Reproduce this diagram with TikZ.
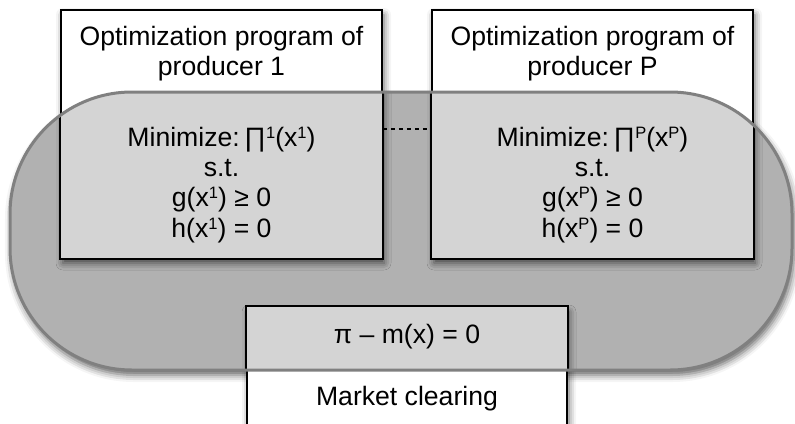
\documentclass[tikz,border=0pt]{standalone}
\usepackage{fontspec}
\setmainfont{Liberation Sans}
\usetikzlibrary{shadows.blur,calc}
\definecolor{ringfill}{HTML}{B1B1B1}
\definecolor{ringline}{HTML}{808080}
\definecolor{insidefill}{HTML}{D4D4D4}
\newcommand\hi[1]{\raisebox{7.6pt}{\fontsize{16.5}{16.5}\selectfont #1}}
\tikzset{
  prog/.style={draw=black, line width=1.8pt, fill=white, rectangle, inner sep=0pt},
  softshadow/.style={blur shadow={shadow xshift=2pt, shadow yshift=-5pt,
      shadow blur radius=7pt, shadow opacity=62}},
  txt/.style={anchor=base, inner sep=0pt, font=\fontsize{26.6}{30}\selectfont},
  ringedge/.style={draw=ringline, line width=3pt},
  dashline/.style={draw=black, line width=1.4pt, dash pattern=on 4pt off 4pt},
}
\begin{document}
\begin{tikzpicture}[x=1pt, y=-1pt]
\useasboundingbox (0,0) rectangle (795,423);

% shared constraint region (filled, with its shadow)
\path[fill=ringfill, softshadow, rounded corners=122pt] (10,92) rectangle (792,370);

% the three programs
\node[prog, softshadow, minimum width=321pt, minimum height=248pt] (p1) at (221.5,134) {};
\node[prog, softshadow, minimum width=321pt, minimum height=248pt] (pP) at (592.5,134) {};
\node[prog, softshadow, minimum width=320pt, minimum height=126pt] (mc) at (407,370) {};

% parts of the programs lying inside the shared region
\begin{scope}
  \clip[rounded corners=122pt] (10,92) rectangle (792,370);
  \path[fill=insidefill, draw=black, line width=1.8pt] (p1.north west) rectangle (p1.south east);
  \path[fill=insidefill, draw=black, line width=1.8pt] (pP.north west) rectangle (pP.south east);
  \path[fill=insidefill, draw=black, line width=1.8pt] (mc.north west) rectangle (mc.south east);
\end{scope}

% outline of the shared region
\path[ringedge, rounded corners=122pt] (10,92) rectangle (792,370);

% producer 1
\node[txt] (p1t1) at (221.5,45) {Optimization program of};
\node[txt] (p1t2) at (221.5,75) {producer 1};
\node[txt] (p1c1) at (221.5,146) {Minimize:\,∏\hi{1}(x\hi{1})};
\node[txt] (p1c2) at (221.5,176) {s.t.};
\node[txt] (p1c3) at (221.5,206.5) {g(x\hi{1}) ≥ 0};
\node[txt] (p1c4) at (221.5,237.5) {h(x\hi{1}) = 0};

% producer P
\node[txt] (pPt1) at (592.5,45) {Optimization program of};
\node[txt] (pPt2) at (592.5,75) {producer P};
\node[txt] (pPc1) at (592.5,146) {Minimize:\,∏\hi{P}(x\hi{P})};
\node[txt] (pPc2) at (592.5,176) {s.t.};
\node[txt] (pPc3) at (592.5,206.5) {g(x\hi{P}) ≥ 0};
\node[txt] (pPc4) at (592.5,237.5) {h(x\hi{P}) = 0};

% market clearing
\node[txt] (mcc) at (407,343) {π – m(x) = 0};
\node[txt] (mct) at (407,405) {Market clearing};

% further producers in between
\draw[dashline] ($(p1.north east)+(0,120)$) -- ($(pP.north west)+(0,120)$);
\end{tikzpicture}
\end{document}
